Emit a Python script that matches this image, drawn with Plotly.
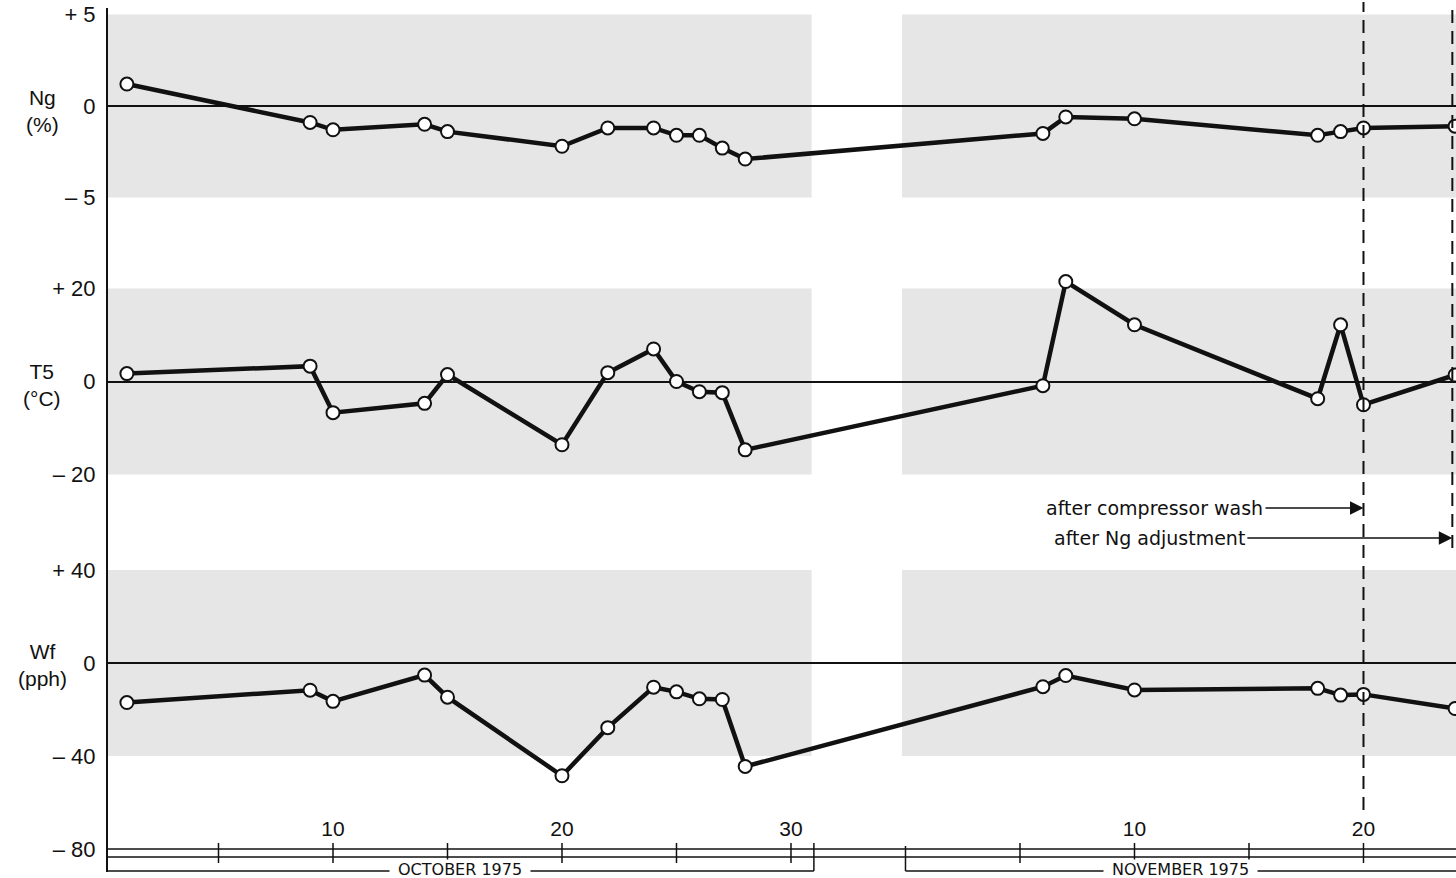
import plotly.graph_objects as go

# ---------------- data ----------------
MONTH = ["Oct"] * 12 + ["Nov"] * 7
DAY = [1, 9, 10, 14, 15, 20, 22, 24, 25, 26, 27, 28, 6, 7, 10, 18, 19, 20, 24]
NG = [1.2, -0.9, -1.3, -1.0, -1.4, -2.2, -1.2, -1.2, -1.6, -1.6, -2.3, -2.9,
      -1.5, -0.6, -0.7, -1.6, -1.4, -1.2, -1.1]
T5 = [1.7, 3.3, -6.7, -4.7, 1.5, -13.6, 1.9, 7.0, 0.0, -2.2, -2.4, -14.7,
      -0.9, 21.5, 12.2, -3.7, 12.2, -5.0, 1.4]
WF = [-17.0, -11.7, -16.5, -5.2, -14.7, -48.5, -27.8, -10.4, -12.4, -15.4, -15.7, -44.5,
      -10.2, -5.4, -11.6, -10.9, -13.8, -13.5, -19.6]

NG_TICKS = [5, 0, -5]
NG_TICKTEXT = ["+ 5", "0", "– 5"]
T5_TICKS = [20, 0, -20]
T5_TICKTEXT = ["+ 20", "0", "– 20"]
WF_TICKS = [40, 0, -40, -80]
WF_TICKTEXT = ["+ 40", "0", "– 40", "– 80"]

OCT_TICK_DAYS = [5, 10, 15, 20, 25, 30]
NOV_TICK_DAYS = [5, 10, 15, 20]
OCT_LABEL_DAYS = [10, 20, 30]
NOV_LABEL_DAYS = [10, 20]

OCT_LAST_DAY = 31
NOV_SHIFT = 35          # November drawn after a break in the time axis
COMPRESSOR_WASH_DAY = 20   # November
NG_ADJUST_DAY = 24         # November

# ---------------- helpers ----------------
W, H = 1456, 878
L_MARGIN = 107
X_MIN, X_MAX = 0.131, 59.04


def xpos(month, day):
    return day if month == "Oct" else NOV_SHIFT + day


def py(pix):
    """pixel row (from top) -> paper y"""
    return 1 - pix / H


X = [xpos(m, d) for m, d in zip(MONTH, DAY)]
FONT = "Liberation Sans, Arial, sans-serif"
WIDE = "DejaVu Sans, Liberation Sans, sans-serif"
INK = "#111111"
BAND = "#e6e6e6"

fig = go.Figure()
for vals, ax in [(NG, "y"), (T5, "y2"), (WF, "y3")]:
    fig.add_trace(go.Scatter(
        x=X, y=vals, xaxis="x", yaxis=ax, mode="lines+markers",
        line=dict(color=INK, width=4.5),
        marker=dict(size=13, color="white", line=dict(color=INK, width=2)),
        cliponaxis=False, showlegend=False, hoverinfo="skip"))

shapes = []
# shaded bands
for yref, lim in [("y", 5), ("y2", 20), ("y3", 40)]:
    shapes.append(dict(type="rect", xref="x", yref=yref, x0=X_MIN, x1=OCT_LAST_DAY - 0.1,
                       y0=-lim, y1=lim, fillcolor=BAND, line=dict(width=0), layer="below"))
    shapes.append(dict(type="rect", xref="x", yref=yref, x0=NOV_SHIFT - 0.15, x1=X_MAX + 1,
                       y0=-lim, y1=lim, fillcolor=BAND, line=dict(width=0), layer="below"))

# left axis line
shapes.append(dict(type="line", xref="paper", yref="paper", x0=0, x1=0,
                   y0=py(872), y1=py(8), line=dict(color=INK, width=2)))
# double time-axis line
for row in (849, 857):
    shapes.append(dict(type="line", xref="paper", yref="paper", x0=0, x1=1,
                       y0=py(row), y1=py(row), line=dict(color=INK, width=1.5)))
# time ticks
for d in OCT_TICK_DAYS:
    shapes.append(dict(type="line", xref="x", yref="paper", x0=xpos("Oct", d), x1=xpos("Oct", d),
                       y0=py(863), y1=py(843), line=dict(color=INK, width=1.5)))
for d in NOV_TICK_DAYS:
    shapes.append(dict(type="line", xref="x", yref="paper", x0=xpos("Nov", d), x1=xpos("Nov", d),
                       y0=py(863), y1=py(843), line=dict(color=INK, width=1.5)))
# month brackets
shapes.append(dict(type="line", xref="x", yref="paper", x0=OCT_LAST_DAY, x1=OCT_LAST_DAY,
                   y0=py(871), y1=py(843), line=dict(color=INK, width=1.5)))
shapes.append(dict(type="line", xref="x", yref="paper", x0=NOV_SHIFT, x1=NOV_SHIFT,
                   y0=py(871), y1=py(846), line=dict(color=INK, width=1.5)))
shapes.append(dict(type="line", xref="x", yref="paper", x0=X_MIN, x1=OCT_LAST_DAY,
                   y0=py(871), y1=py(871), line=dict(color=INK, width=1.5)))
shapes.append(dict(type="line", xref="x", yref="paper", x0=NOV_SHIFT, x1=X_MAX + 1,
                   y0=py(871), y1=py(871), line=dict(color=INK, width=1.5)))
# dashed event lines
shapes.append(dict(type="line", xref="x", yref="paper",
                   x0=xpos("Nov", COMPRESSOR_WASH_DAY), x1=xpos("Nov", COMPRESSOR_WASH_DAY),
                   y0=py(810), y1=py(2), line=dict(color=INK, width=2, dash="13px,8px")))
shapes.append(dict(type="line", xref="x", yref="paper",
                   x0=xpos("Nov", NG_ADJUST_DAY) - 0.12, x1=xpos("Nov", NG_ADJUST_DAY) - 0.12,
                   y0=py(548), y1=py(2), line=dict(color=INK, width=2, dash="13px,8px")))

annotations = []
for text, row in [("Ng<br>(%)", 111), ("T5<br>(°C)", 385), ("Wf<br>(pph)", 665)]:
    annotations.append(dict(text=text, xref="paper", yref="paper", x=(42 - L_MARGIN) / (W - L_MARGIN),
                            y=py(row), xanchor="center", yanchor="middle", showarrow=False,
                            font=dict(family=FONT, size=21, color=INK)))
annotations.append(dict(text="\u2002OCTOBER 1975\u2002", xref="x", yref="paper",
                        x=(X_MIN + OCT_LAST_DAY) / 2, y=py(869), showarrow=False,
                        bgcolor="white", borderpad=0, yanchor="middle",
                        font=dict(family=WIDE, size=16, color=INK)))
annotations.append(dict(text="\u2002NOVEMBER 1975\u2002", xref="x", yref="paper",
                        x=(NOV_SHIFT + X_MAX) / 2, y=py(869), showarrow=False,
                        bgcolor="white", borderpad=0, yanchor="middle",
                        font=dict(family=WIDE, size=16, color=INK)))
annotations.append(dict(text="after compressor wash", xref="x", yref="paper",
                        x=xpos("Nov", COMPRESSOR_WASH_DAY), y=py(508), ax=-98, ay=0,
                        xanchor="right", showarrow=True, arrowhead=2, arrowsize=1.8,
                        arrowwidth=1.5, arrowcolor=INK,
                        font=dict(family=WIDE, size=19, color=INK)))
annotations.append(dict(text="after Ng adjustment", xref="x", yref="paper",
                        x=xpos("Nov", NG_ADJUST_DAY) - 0.12, y=py(538), ax=-205, ay=0,
                        xanchor="right", showarrow=True, arrowhead=2, arrowsize=1.8,
                        arrowwidth=1.5, arrowcolor=INK,
                        font=dict(family=WIDE, size=19, color=INK)))

yax_common = dict(showline=False, showgrid=False, zeroline=True, zerolinecolor=INK,
                  zerolinewidth=1.5, ticks="outside", ticklen=6, tickcolor="rgba(0,0,0,0)",
                  tickfont=dict(family=FONT, size=22, color=INK), anchor="x", fixedrange=True,
                  ticklabeloverflow="allow", automargin=False)

fig.update_layout(
    width=W, height=H,
    margin=dict(l=L_MARGIN, r=0, t=0, b=0, pad=0, autoexpand=False),
    paper_bgcolor="white", plot_bgcolor="white",
    showlegend=False,
    xaxis=dict(domain=[0, 1], range=[X_MIN, X_MAX], anchor="free", position=py(849),
               side="top", showline=False, showgrid=False, zeroline=False, automargin=False,
               fixedrange=True,
               tickvals=[xpos("Oct", d) for d in OCT_LABEL_DAYS] + [xpos("Nov", d) for d in NOV_LABEL_DAYS],
               ticktext=[str(d) for d in OCT_LABEL_DAYS] + [str(d) for d in NOV_LABEL_DAYS],
               ticks="outside", ticklen=5, tickcolor="rgba(0,0,0,0)",
               tickfont=dict(family=FONT, size=21, color=INK)),
    yaxis=dict(domain=[py(235), 1], range=[-(235 - 106) / 18.3, 106 / 18.3],
               tickvals=NG_TICKS, ticktext=NG_TICKTEXT, **yax_common),
    yaxis2=dict(domain=[py(520), py(235)], range=[-(520 - 381.5) / 4.65, (381.5 - 235) / 4.65],
                tickvals=T5_TICKS, ticktext=T5_TICKTEXT, **yax_common),
    yaxis3=dict(domain=[py(849), py(520)], range=[-80, (663 - 520) / 2.325],
                tickvals=WF_TICKS, ticktext=WF_TICKTEXT, **yax_common),
    shapes=shapes,
    annotations=annotations,
)

fig.write_html("out.html", config={"displayModeBar": False},
               post_script="document.body.style.margin='0px';")
